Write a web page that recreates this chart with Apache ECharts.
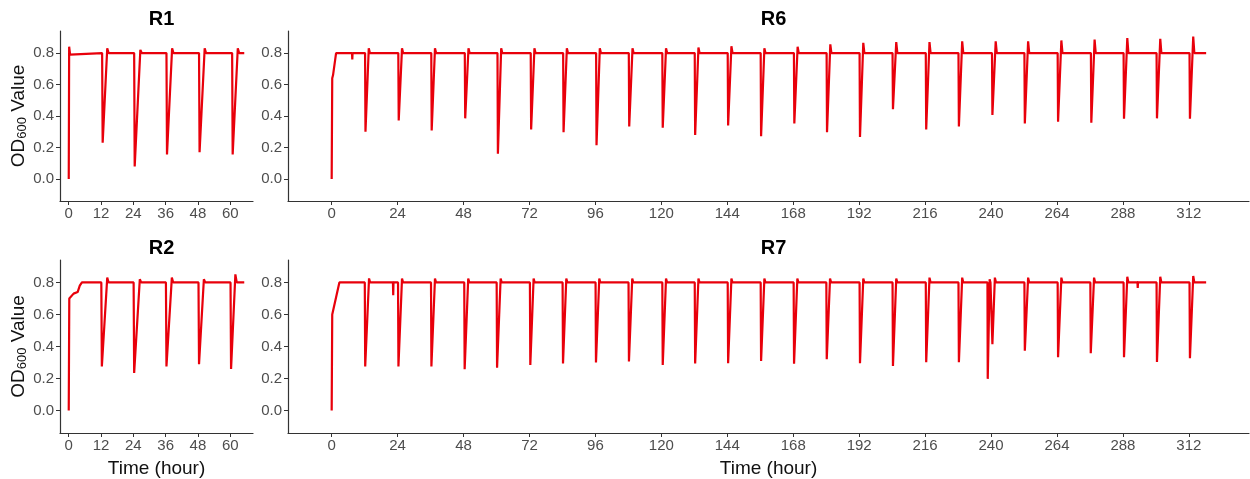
<!DOCTYPE html>
<html>
<head>
<meta charset="utf-8">
<script src="https://cdn.jsdelivr.net/npm/echarts@6/dist/echarts.min.js"></script>
<style>
  html, body { margin: 0; padding: 0; background: #fff; }
  #main { width: 1250px; height: 479px; }
</style>
</head>
<body>
<div id="main"></div>
<script>
// OD600 traces, [hour, OD] (turning points of each dilution cycle)
const r1 = [
  [0, 0], [0.15, 0.84], [0.5, 0.79], [1.2, 0.8],
  [12.4, 0.8], [12.6, 0.23], [14.3, 0.83], [14.8, 0.8],
  [24.3, 0.8], [24.5, 0.08], [26.6, 0.82], [27.1, 0.8],
  [36.3, 0.8], [36.5, 0.155], [38.4, 0.83], [38.9, 0.8],
  [48.4, 0.8], [48.6, 0.17], [50.5, 0.83], [51, 0.8],
  [60.7, 0.8], [60.9, 0.155], [62.8, 0.83], [63.3, 0.8],
  [65.2, 0.8]
];

const r2 = [
  [0, 0], [0.2, 0.7], [0.6, 0.71], [1.8, 0.73], [3.3, 0.74], [4.1, 0.78], [4.9, 0.8],
  [12.1, 0.8], [12.3, 0.275], [14.3, 0.83], [14.8, 0.8],
  [24.1, 0.8], [24.3, 0.235], [26.4, 0.82], [26.9, 0.8],
  [36.1, 0.8], [36.3, 0.275], [38.3, 0.83], [38.8, 0.8],
  [48.2, 0.8], [48.4, 0.29], [50.2, 0.82], [50.7, 0.8],
  [60.1, 0.8], [60.3, 0.26], [61.9, 0.85], [62.4, 0.8],
  [65.2, 0.8]
];

const r6 = [
  [0, 0], [0.2, 0.64], [0.5, 0.66], [1.6, 0.8],
  [7.4, 0.8], [7.5, 0.76], [7.6, 0.8],
  [12.15, 0.8], [12.3, 0.3], [13.5, 0.83], [13.9, 0.8],
  [24.25, 0.8], [24.4, 0.372], [25.6, 0.83], [26, 0.8],
  [36.25, 0.8], [36.4, 0.308], [37.6, 0.83], [38, 0.8],
  [48.45, 0.8], [48.6, 0.385], [49.8, 0.83], [50.2, 0.8],
  [60.35, 0.8], [60.5, 0.16], [61.7, 0.83], [62.1, 0.8],
  [72.45, 0.8], [72.6, 0.314], [73.8, 0.83], [74.2, 0.8],
  [84.25, 0.8], [84.4, 0.297], [85.6, 0.83], [86, 0.8],
  [96.25, 0.8], [96.4, 0.214], [97.6, 0.83], [98, 0.8],
  [108.15, 0.8], [108.3, 0.334], [109.5, 0.83], [109.9, 0.8],
  [120.35, 0.8], [120.5, 0.325], [121.7, 0.83], [122.1, 0.8],
  [132.15, 0.8], [132.3, 0.28], [133.5, 0.835], [133.9, 0.8],
  [144.15, 0.8], [144.3, 0.34], [145.5, 0.843], [145.9, 0.8],
  [156.15, 0.8], [156.3, 0.272], [157.5, 0.83], [157.9, 0.8],
  [168.25, 0.8], [168.4, 0.353], [169.6, 0.84], [170, 0.8],
  [180.15, 0.8], [180.3, 0.297], [181.5, 0.855], [181.9, 0.8],
  [192.15, 0.8], [192.3, 0.267], [193.5, 0.865], [193.9, 0.8],
  [204.15, 0.8], [204.3, 0.443], [205.5, 0.87], [205.9, 0.8],
  [216.25, 0.8], [216.4, 0.314], [217.6, 0.87], [218, 0.8],
  [228.15, 0.8], [228.3, 0.334], [229.5, 0.875], [229.9, 0.8],
  [240.35, 0.8], [240.5, 0.406], [241.7, 0.875], [242.1, 0.8],
  [252.15, 0.8], [252.3, 0.353], [253.5, 0.875], [253.9, 0.8],
  [264.25, 0.8], [264.4, 0.364], [265.6, 0.88], [266, 0.8],
  [276.35, 0.8], [276.5, 0.357], [277.7, 0.885], [278.1, 0.8],
  [288.25, 0.8], [288.4, 0.383], [289.6, 0.895], [290, 0.8],
  [300.25, 0.8], [300.4, 0.385], [301.6, 0.89], [302, 0.8],
  [312.25, 0.8], [312.4, 0.383], [313.6, 0.905], [314, 0.8],
  [318.3, 0.8]
];

const r7 = [
  [0, 0], [0.2, 0.6], [0.8, 0.61], [2.8, 0.8],
  [12.05, 0.8], [12.2, 0.275], [13.6, 0.825], [14, 0.8],
  [22.3, 0.8], [22.4, 0.72], [22.5, 0.8],
  [24.15, 0.8], [24.3, 0.275], [25.6, 0.825], [26, 0.8],
  [36.15, 0.8], [36.3, 0.275], [37.6, 0.825], [38, 0.8],
  [48.25, 0.8], [48.4, 0.258], [49.7, 0.825], [50.1, 0.8],
  [60.05, 0.8], [60.2, 0.267], [61.5, 0.825], [61.9, 0.8],
  [72.15, 0.8], [72.3, 0.285], [73.5, 0.825], [73.9, 0.8],
  [84.05, 0.8], [84.2, 0.294], [85.4, 0.825], [85.8, 0.8],
  [96.05, 0.8], [96.2, 0.3], [97.4, 0.825], [97.8, 0.8],
  [108.05, 0.8], [108.2, 0.306], [109.4, 0.825], [109.8, 0.8],
  [120.35, 0.8], [120.5, 0.285], [121.7, 0.825], [122.1, 0.8],
  [132.15, 0.8], [132.3, 0.294], [133.5, 0.825], [133.9, 0.8],
  [144.15, 0.8], [144.3, 0.296], [145.5, 0.825], [145.9, 0.8],
  [156.15, 0.8], [156.3, 0.31], [157.5, 0.825], [157.9, 0.8],
  [168.15, 0.8], [168.3, 0.292], [169.5, 0.825], [169.9, 0.8],
  [180.05, 0.8], [180.2, 0.321], [181.4, 0.825], [181.8, 0.8],
  [192.15, 0.8], [192.3, 0.296], [193.5, 0.825], [193.9, 0.8],
  [204.15, 0.8], [204.3, 0.279], [205.5, 0.825], [205.9, 0.8],
  [216.25, 0.8], [216.4, 0.302], [217.6, 0.83], [218, 0.8],
  [228.15, 0.8], [228.3, 0.302], [229.5, 0.83], [229.9, 0.8],
  [238.7, 0.8], [238.8, 0.198], [239.5, 0.82], [239.8, 0.8],
  [240.35, 0.8], [240.5, 0.415], [241.4, 0.83], [241.8, 0.8],
  [252.15, 0.8], [252.3, 0.373], [253.5, 0.83], [253.9, 0.8],
  [264.25, 0.8], [264.4, 0.333], [265.6, 0.83], [266, 0.8],
  [276.15, 0.8], [276.3, 0.358], [277.5, 0.83], [277.9, 0.8],
  [288.25, 0.8], [288.4, 0.333], [289.6, 0.835], [290, 0.8],
  [293.3, 0.8], [293.4, 0.765], [293.5, 0.8],
  [300.25, 0.8], [300.4, 0.304], [301.6, 0.835], [302, 0.8],
  [312.25, 0.8], [312.4, 0.327], [313.6, 0.84], [314, 0.8],
  [318.3, 0.8]
];

const panelNames = ['R1', 'R6', 'R2', 'R7'];
const shortTicks = [0, 12, 24, 36, 48, 60];
const longTicks = [0, 24, 48, 72, 96, 120, 144, 168, 192, 216, 240, 264, 288, 312];
const odTicks = [0, 0.2, 0.4, 0.6, 0.8];

const lineColor = '#e8000b';
const axisColor = '#333';
const labelColor = '#4d4d4d';
const font = 'Liberation Sans, Arial, sans-serif';

const grids = [
  { left: 60, top: 31, width: 193, height: 170 },
  { left: 288, top: 31, width: 961, height: 170 },
  { left: 60, top: 260, width: 193, height: 176 },
  { left: 288, top: 260, width: 961, height: 176 }
];

function xAxisFor(i, ticks, min, max, showName) {
  return {
    type: 'value',
    gridIndex: i,
    min: min,
    max: max,
    name: showName ? 'Time (hour)' : '',
    nameLocation: 'middle',
    nameGap: 26,
    nameTextStyle: { fontFamily: font, fontSize: 19, color: '#111' },
    splitLine: { show: false },
    axisLine: { onZero: false, lineStyle: { color: axisColor, width: 1.2 } },
    axisTick: { customValues: ticks, length: 4, lineStyle: { color: axisColor } },
    axisLabel: { customValues: ticks, fontFamily: font, fontSize: 15, color: labelColor, margin: 5 }
  };
}

function yAxisFor(i, showName) {
  return {
    type: 'value',
    gridIndex: i,
    min: -0.14,
    max: 0.94,
    name: showName ? '{a|OD}{b|600}{a| Value}' : '',
    nameLocation: 'middle',
    nameGap: 29,
    nameTextStyle: {
      fontFamily: font,
      color: '#111',
      rich: {
        a: { fontFamily: font, fontSize: 19, color: '#111' },
        b: { fontFamily: font, fontSize: 13, color: '#111', padding: [8, 0, 0, 0] }
      }
    },
    splitLine: { show: false },
    axisLine: { onZero: false, lineStyle: { color: axisColor, width: 1.2 } },
    axisTick: { customValues: odTicks, length: 4, lineStyle: { color: axisColor } },
    axisLabel: {
      customValues: odTicks,
      fontFamily: font,
      fontSize: 15,
      color: labelColor,
      margin: 6,
      formatter: (v) => v.toFixed(1)
    }
  };
}

const titles = grids.map((g, i) => ({
  text: panelNames[i],
  left: g.left + g.width / 2,
  top: g.top - 27,
  textAlign: 'center',
  textStyle: { fontFamily: font, fontSize: 20, fontWeight: 'bold', color: '#000' }
}));

const traces = [r1, r6, r2, r7];

let dom = document.getElementById('main');
let myChart = echarts.init(dom, null, { renderer: 'canvas' });

let option = {
  animation: false,
  backgroundColor: '#fff',
  title: titles,
  grid: grids,
  xAxis: [
    xAxisFor(0, shortTicks, -3.25, 68.45, false),
    xAxisFor(1, longTicks, -15.9, 333.9, false),
    xAxisFor(2, shortTicks, -3.25, 68.45, true),
    xAxisFor(3, longTicks, -15.9, 333.9, true)
  ],
  yAxis: [
    yAxisFor(0, true),
    yAxisFor(1, false),
    yAxisFor(2, true),
    yAxisFor(3, false)
  ],
  series: traces.map((d, i) => ({
    type: 'line',
    xAxisIndex: i,
    yAxisIndex: i,
    data: d,
    showSymbol: false,
    lineStyle: { color: lineColor, width: 2.2 }
  }))
};

myChart.setOption(option);
window.addEventListener('resize', myChart.resize);
</script>
</body>
</html>
